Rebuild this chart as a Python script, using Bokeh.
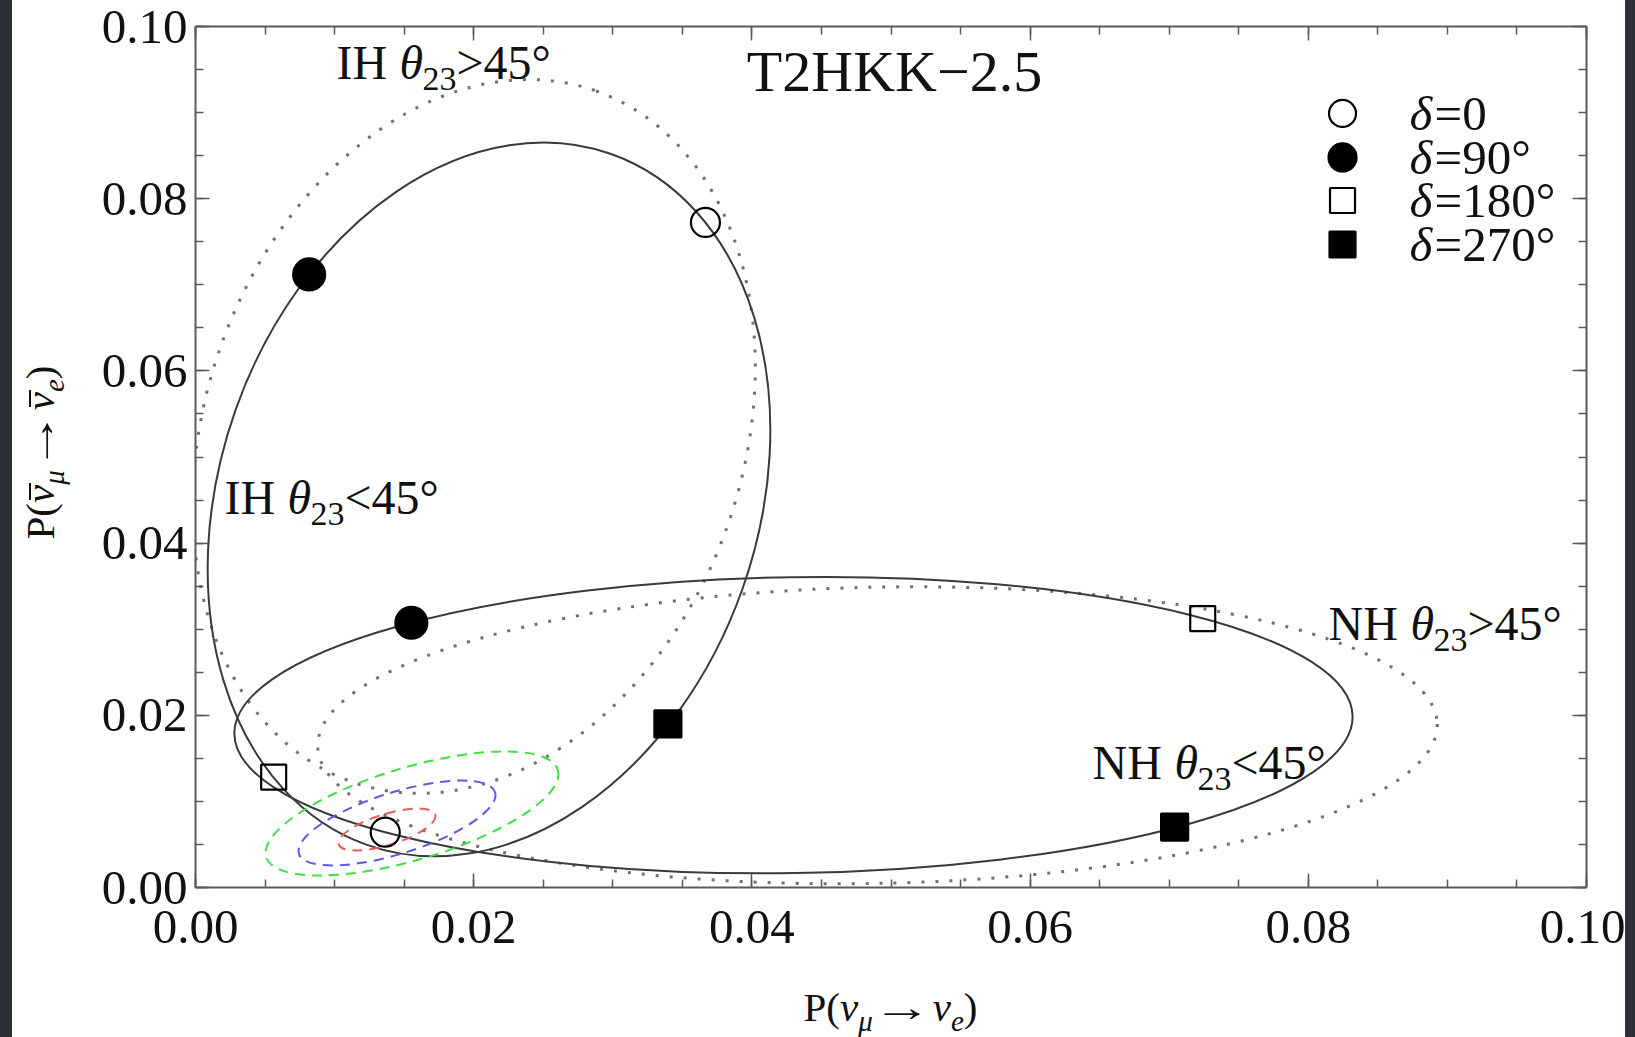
from bokeh.plotting import figure
from bokeh.models import (Range1d, LinearAxis, SingleIntervalTicker,
                          NumeralTickFormatter, ColumnDataSource, Div)
from bokeh.layouts import row, column
from bokeh.embed import file_html
from bokeh.resources import INLINE
from bokeh.core.properties import value

FONT = "Liberation Serif"

# ---------------- data ----------------
delta_labels = ["δ=0", "δ=90°", "δ=180°", "δ=270°"]

# marked points on the solid (θ23<45°) trajectories, δ = 0, 90°, 180°, 270°
ih_lo_x = [0.03666, 0.00817, 0.00562, 0.03396]
ih_lo_y = [0.07724, 0.07120, 0.01283, 0.01900]
nh_lo_x = [0.01364, 0.01552, 0.07241, 0.07039]
nh_lo_y = [0.00642, 0.03075, 0.03123, 0.00702]

# CP trajectories drawn as ellipses: centre, width, height, angle (rad)
curve_names = ["IH θ23<45°", "IH θ23>45°", "NH θ23<45°", "NH θ23>45°"]
curve_cx = [0.02110, 0.02002, 0.04299, 0.04903]
curve_cy = [0.04507, 0.05239, 0.01886, 0.01768]
curve_w = [0.05268, 0.05268, 0.08040, 0.08050]
curve_h = [0.06244, 0.06244, 0.03438, 0.03440]
curve_angle = [1.2310, 1.2310, 0.0158, 0.0200]

# dashed contours (green, blue, red)
cont_cx = [0.015565, 0.014486, 0.013767]
cont_cy = [0.008595, 0.007491, 0.006736]
cont_w = [0.02188, 0.014781, 0.007261]
cont_h = [0.01073, 0.007131, 0.00360]
cont_angle = [0.2897, 0.3037, 0.2985]

title_text = "T2HKK\u22122.5"
tick_interval = 0.02

# ---------------- figure ----------------
p = figure(frame_width=1391, frame_height=861,
           x_range=Range1d(0, 0.1), y_range=Range1d(0, 0.1),
           output_backend="svg", toolbar_location=None,
           min_border_left=105, min_border_right=39,
           min_border_top=26, min_border_bottom=73,
           background_fill_color="white", border_fill_color="white")
p.outline_line_color = None
p.grid.visible = False

bottom_axis = p.below[0]
left_axis = p.left[0]
top_axis = LinearAxis()
right_axis = LinearAxis()
p.add_layout(top_axis, "above")
p.add_layout(right_axis, "right")

ticker = SingleIntervalTicker(interval=tick_interval, num_minor_ticks=4)
for ax in [bottom_axis, left_axis, top_axis, right_axis]:
    ax.ticker = ticker
    ax.formatter = NumeralTickFormatter(format="0.00")
    ax.axis_line_color = "#5a5a5a"
    ax.axis_line_width = 2
    ax.major_tick_in = 14
    ax.major_tick_out = 0
    ax.minor_tick_in = 8
    ax.minor_tick_out = 0
    ax.major_tick_line_color = "#5a5a5a"
    ax.minor_tick_line_color = "#5a5a5a"
    ax.major_tick_line_width = 1.5
    ax.minor_tick_line_width = 1.5
    ax.major_label_text_font = FONT
    ax.major_label_text_color = "#111111"
    ax.major_label_text_font_size = "49px"

for ax in [top_axis, right_axis]:
    ax.major_label_text_font_size = "1px"
    ax.major_label_text_color = None
    ax.major_label_standoff = 0

bottom_axis.major_label_standoff = 23
left_axis.major_label_standoff = 8

# ---------------- curves ----------------
csrc = ColumnDataSource(dict(x=curve_cx, y=curve_cy, w=curve_w, h=curve_h,
                             a=curve_angle, name=curve_names))
solid_idx = [0, 2]
dotted_idx = [1, 3]
sol = ColumnDataSource({k: [v[i] for i in solid_idx] for k, v in csrc.data.items()})
dot = ColumnDataSource({k: [v[i] for i in dotted_idx] for k, v in csrc.data.items()})

p.ellipse(x="x", y="y", width="w", height="h", angle="a", source=dot,
          fill_color=None, line_color="#707070", line_width=3, line_dash="3 11")
p.ellipse(x="x", y="y", width="w", height="h", angle="a", source=sol,
          fill_color=None, line_color="#3a3a3a", line_width=2)

cont_colors = ["#3fe03f", "#5a5aee", "#ee5a5a"]
p.ellipse(x=cont_cx, y=cont_cy, width=cont_w, height=cont_h, angle=cont_angle,
          fill_color=None, line_color=cont_colors, line_width=2, line_dash="10 7")

# ---------------- markers ----------------
marker_kind = ["circle", "circle", "square", "square"]
marker_fill = [None, "black", None, "black"]
marker_size = [29, 32, 25, 27]
for xs, ys in [(ih_lo_x, ih_lo_y), (nh_lo_x, nh_lo_y)]:
    for i in range(4):
        p.scatter(x=[xs[i]], y=[ys[i]], marker=marker_kind[i], size=marker_size[i],
                  fill_color=marker_fill[i], line_color="black", line_width=2.2)


def txt(x, y, s, size, italic=False, xo=0, yo=0, align="left"):
    """y is the text baseline; drawn with a 'middle' anchor shifted up."""
    p.text(x=[x], y=[y], text=[s], x_offset=xo, y_offset=yo - 0.31 * size,
           text_font=value(FONT), text_font_size=f"{size}px",
           text_font_style="italic" if italic else "normal",
           text_align=align, text_baseline="middle", text_color="#111111")


# ---------------- legend ----------------
leg_rows = [0.08990, 0.08479, 0.07979, 0.07468]
leg_mx = 0.08246
leg_tx = 0.08728
leg_size = [27, 28, 25, 26]
for i, lab in enumerate(delta_labels):
    p.scatter(x=[leg_mx], y=[leg_rows[i]], marker=marker_kind[i], size=leg_size[i],
              fill_color=marker_fill[i], line_color="black", line_width=2.2)
    txt(leg_tx, leg_rows[i], lab[0], 49, italic=True, yo=15)
    txt(leg_tx, leg_rows[i], lab[1:], 49, xo=25, yo=15)

# ---------------- title ----------------
txt(0.05025, 0.09233, title_text, 58, yo=-3, align="center")

# ---------------- region labels ----------------
label_pos = {
    "IH θ23<45°": (0.002085, 0.04355),
    "IH θ23>45°": (0.010137, 0.09408),
    "NH θ23<45°": (0.064486, 0.01278),
    "NH θ23>45°": (0.081452, 0.02892),
}
for name in curve_names:
    lx, ly = label_pos[name]
    head, tail = name.split(" ")
    th_off = 63 if head == "IH" else 82
    txt(lx, ly, head, 48)
    txt(lx, ly, tail[0], 48, italic=True, xo=th_off)
    txt(lx, ly, tail[1:3], 34, xo=th_off + 23, yo=12)
    txt(lx, ly, tail[3:], 48, xo=th_off + 57)

# ---------------- axis titles as HTML (subscripts) ----------------
SUB = "font-size:29px;position:relative;top:10px;"
ARROW = ('<span style="display:inline-block;transform:scaleX(1.45);'
         'margin:0 10px 0 9px;">→</span>')
BAR_NU = ('<span style="position:relative;display:inline-block;"><i>ν</i>'
          '<span style="position:absolute;left:3px;right:-2px;top:9px;'
          'border-top:2px solid #111;"></span></span>')
BASE = ("position:absolute;width:261px;text-align:center;white-space:nowrap;"
        "font-family:Liberation Serif;font-size:41px;line-height:40px;color:#111;")

x_title = (f'P(<i>ν</i><span style="{SUB}"><i>μ</i></span>{ARROW}'
           f'<i>ν</i><span style="{SUB}"><i>e</i></span>)')
y_title = (f'P({BAR_NU}<span style="{SUB}"><i>μ</i></span>{ARROW}'
           f'{BAR_NU}<span style="{SUB}"><i>e</i></span>)')

DARK = "#2d2f36"
xdiv = Div(width=1535, height=77, margin=0, text=(
    f'<div style="position:relative;width:1535px;height:77px;">'
    f'<div style="{BASE}left:670px;top:27px;">{x_title}</div></div>'))
ydiv = Div(width=90, height=1037, margin=0, text=(
    f'<div style="position:relative;width:90px;height:1037px;">'
    f'<div style="position:absolute;left:0;top:0;width:12px;height:1037px;background:{DARK};"></div>'
    f'<div style="{BASE}left:20px;top:583px;transform-origin:0 0;transform:rotate(-90deg);">'
    f'{y_title}</div></div>'))
rdiv = Div(width=10, height=1037, margin=0, text=(
    f'<div style="width:10px;height:1037px;background:{DARK};"></div>'))

layout = row(ydiv, column(p, xdiv), rdiv)

open("out.html", "w").write(file_html(layout, INLINE))
